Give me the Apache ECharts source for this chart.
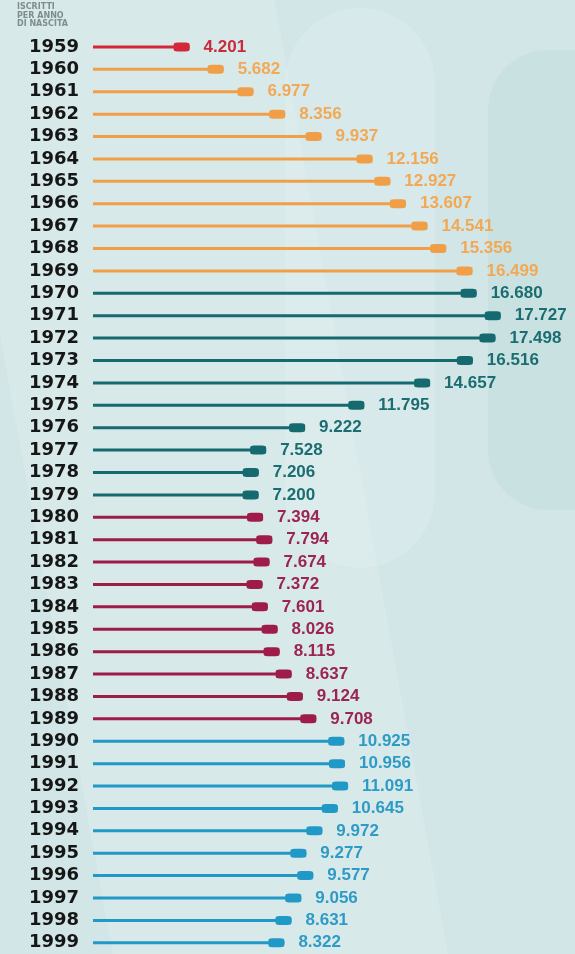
<!DOCTYPE html>
<html>
<head>
<meta charset="utf-8">
<script src="https://cdn.jsdelivr.net/npm/echarts@6/dist/echarts.min.js"></script>
<style>
  html, body { margin: 0; padding: 0; background: #d2e6e7; }
  #main { width: 575px; height: 954px; }
</style>
</head>
<body>
<div id="main"></div>
<script>
// anni di nascita e iscritti
const anni = [
  "1959", "1960", "1961", "1962", "1963", "1964", "1965", "1966", "1967", "1968", "1969",
  "1970", "1971", "1972", "1973", "1974", "1975", "1976", "1977", "1978", "1979",
  "1980", "1981", "1982", "1983", "1984", "1985", "1986", "1987", "1988", "1989",
  "1990", "1991", "1992", "1993", "1994", "1995", "1996", "1997", "1998", "1999"
];
const iscritti = [
  4201, 5682, 6977, 8356, 9937, 12156, 12927, 13607, 14541, 15356, 16499,
  16680, 17727, 17498, 16516, 14657, 11795, 9222, 7528, 7206, 7200,
  7394, 7794, 7674, 7372, 7601, 8026, 8115, 8637, 9124, 9708,
  10925, 10956, 11091, 10645, 9972, 9277, 9577, 9056, 8631, 8322
];
// gruppi per colore (anno iniziale)
const gruppiInizio = [1959, 1960, 1970, 1980, 1990];
const gruppiColore = ["#d2283a", "#f09f48", "#146a6e", "#9e1d48", "#2199c6"];
const gruppiTesto = ["#c92a3c", "#f1a955", "#1a6d71", "#9b2550", "#2e9bc6"];

function gruppo(anno) {
  let g = 0;
  for (let i = 0; i < gruppiInizio.length; i++) {
    if (+anno >= gruppiInizio[i]) g = i;
  }
  return g;
}

function fmt(v) {
  return String(v).replace(/\B(?=(\d{3})+(?!\d))/g, ".");
}

const lineData = iscritti.map((v, i) => ({
  value: v,
  itemStyle: { color: gruppiColore[gruppo(anni[i])] }
}));
const capData = iscritti.map((v, i) => ({
  value: v,
  itemStyle: { color: gruppiColore[gruppo(anni[i])], opacity: 1 },
  label: { color: gruppiTesto[gruppo(anni[i])] }
}));

let chart = echarts.init(document.getElementById("main"));
chart.setOption({
  backgroundColor: "#d2e6e7",
  animation: false,
  graphic: [
    { type: "rect", z: -10, shape: { x: -60, y: -40, width: 330, height: 1100, r: 0 },
      rotation: 0.18, style: { fill: "rgba(255,255,255,0.14)" } },
    { type: "rect", z: -10, shape: { x: 285, y: 8, width: 150, height: 560, r: 75 },
      style: { fill: "rgba(255,255,255,0.12)" } },
    { type: "rect", z: -10, shape: { x: 488, y: 50, width: 140, height: 460, r: 60 },
      style: { fill: "rgba(120,170,172,0.08)" } },
    { type: "text", left: 17, top: 3,
      style: { text: "ISCRITTI\nPER ANNO\nDI NASCITA", fill: "#7f8d8f",
        font: "bold 8px 'DejaVu Sans'", lineHeight: 8.5 } }
  ],
  grid: { left: 93, top: 35.75, width: 460, height: 922.5, containLabel: false },
  xAxis: {
    type: "value", min: 0, max: 20000,
    show: false
  },
  yAxis: {
    type: "category",
    data: anni,
    inverse: true,
    axisLine: { show: false },
    axisTick: { show: false },
    splitLine: { show: false },
    axisLabel: {
      interval: 0,
      margin: 14,
      color: "#161616",
      fontFamily: "DejaVu Sans",
      fontWeight: "bold",
      fontSize: 18
    }
  },
  series: [
    {
      type: "bar",
      data: lineData,
      barWidth: 3,
      silent: true
    },
    {
      type: "scatter",
      data: capData,
      symbol: "roundRect",
      symbolSize: [16, 9],
      symbolOffset: [-8, 0],
      z: 3,
      label: {
        show: true,
        position: "right",
        distance: 14,
        formatter: p => fmt(p.value),
        fontFamily: "Liberation Sans",
        fontWeight: "bold",
        fontSize: 17
      }
    }
  ]
});
</script>
</body>
</html>
